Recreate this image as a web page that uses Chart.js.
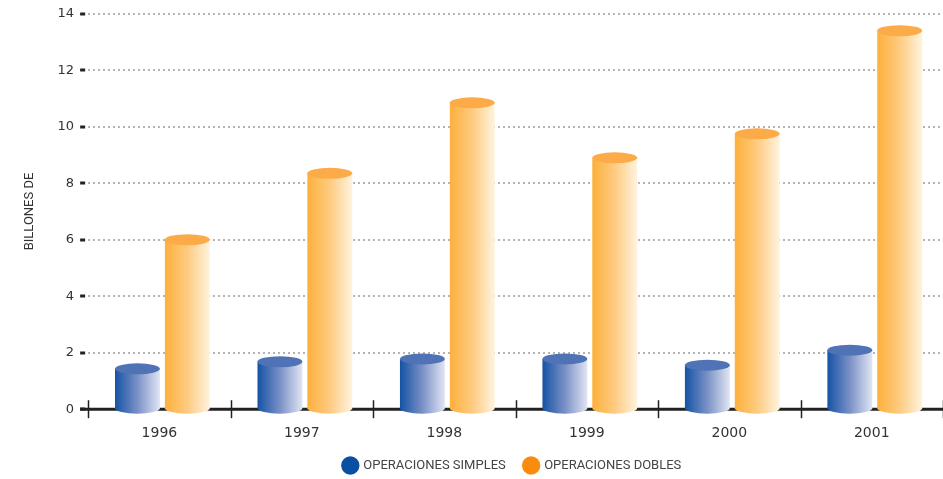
<!DOCTYPE html>
<html>
<head>
<meta charset="utf-8">
<script src="https://cdn.jsdelivr.net/npm/chart.js@4"></script>
<style>
  html, body { margin: 0; padding: 0; background: #fff; }
  #wrap { width: 943px; height: 479px; }
</style>
</head>
<body>
<div id="wrap"><canvas id="graphCanvas"></canvas></div>
<script>
var years = ['1996', '1997', '1998', '1999', '2000', '2001'];
var simples = [1.43, 1.68, 1.78, 1.78, 1.56, 2.09];
var dobles = [6.0, 8.35, 10.85, 8.9, 9.75, 13.4];
var yTicks = [0, 2, 4, 6, 8, 10, 12, 14];

var FONT = "'Liberation Sans Narrow', 'Roboto', sans-serif";

// colours for each cylinder: left side, right side, top cap
var looks = [
    { left: '#1553a5', mid: '#7a90c6', right: '#e0e5f3', cap: '#4f73b5' },
    { left: '#fdb03c', mid: '#fecb80', right: '#fff3df', cap: '#fcab48' }
];

var cylinderPlugin = {
    id: 'cylinders',
    afterLayout: function (chart) {
        // legend sits roughly centred on the plot area, not the canvas
        var shift = ((chart.chartArea.left + chart.chartArea.right) - chart.width) / 2 - 12;
        chart.legend.left += shift;
        chart.legend.right += shift;
        chart.legend.top += 3;
        chart.legend.bottom += 3;
    },
    beforeDatasetsDraw: function (chart) {
        var ctx = chart.ctx;
        var x = chart.scales.x;
        var y = chart.scales.y;
        var y0 = y.getPixelForValue(0);
        ctx.save();
        // base axis line
        ctx.strokeStyle = '#222';
        ctx.lineWidth = 3;
        ctx.beginPath();
        ctx.moveTo(x.left - 8, y0);
        ctx.lineTo(x.right, y0);
        ctx.stroke();
        // crosses at category boundaries
        ctx.lineWidth = 1.5;
        var step = (x.right - x.left) / years.length;
        for (var i = 0; i <= years.length; i++) {
            var bx = Math.round(x.left + i * step) + 0.5;
            ctx.beginPath();
            ctx.moveTo(bx, y0 - 9);
            ctx.lineTo(bx, y0 + 9);
            ctx.stroke();
        }
        ctx.restore();
    },
    afterDatasetsDraw: function (chart) {
        var ctx = chart.ctx;
        chart.data.datasets.forEach(function (ds, di) {
            var look = looks[di];
            chart.getDatasetMeta(di).data.forEach(function (bar) {
                var p = bar.getProps(['x', 'y', 'base', 'width'], true);
                var cx = p.x + 3;
                var l = cx - p.width / 2;
                var r = cx + p.width / 2;
                var rx = p.width / 2;
                var ry = 5.5;
                var g = ctx.createLinearGradient(l, 0, r, 0);
                g.addColorStop(0, look.left);
                g.addColorStop(0.5, look.mid);
                g.addColorStop(1, look.right);
                ctx.save();
                ctx.fillStyle = g;
                ctx.beginPath();
                ctx.moveTo(l, p.y);
                ctx.lineTo(l, p.base);
                ctx.ellipse(cx, p.base, rx, ry, 0, Math.PI, 0, true);
                ctx.lineTo(r, p.y);
                ctx.closePath();
                ctx.fill();
                ctx.fillStyle = look.cap;
                ctx.beginPath();
                ctx.ellipse(cx, p.y, rx, ry, 0, 0, Math.PI * 2);
                ctx.fill();
                ctx.restore();
            });
        });
    }
};

var chartdata = {
    labels: years,
    datasets: [
        {
            label: 'OPERACIONES SIMPLES',
            backgroundColor: 'rgba(0,0,0,0)',
            pointStyle: 'circle',
            data: simples
        },
        {
            label: 'OPERACIONES DOBLES',
            backgroundColor: 'rgba(0,0,0,0)',
            pointStyle: 'circle',
            data: dobles
        }
    ]
};

var legendColors = ['#0b4fa2', '#f98b0f'];

new Chart(document.getElementById('graphCanvas'), {
    type: 'bar',
    data: chartdata,
    plugins: [cylinderPlugin],
    options: {
        responsive: true,
        maintainAspectRatio: false,
        animation: false,
        categoryPercentage: 0.7,
        barPercentage: 0.9,
        layout: { padding: { top: 8, right: 0, left: 18, bottom: 0 } },
        plugins: {
            tooltip: { enabled: false },
            legend: {
                position: 'bottom',
                labels: {
                    usePointStyle: true,
                    boxWidth: 14,
                    boxHeight: 14,
                    padding: 6,
                    color: '#444',
                    font: { family: FONT, size: 13 },
                    generateLabels: function (chart) {
                        return chart.data.datasets.map(function (ds, i) {
                            return {
                                text: ds.label + (i === 0 ? '    ' : ''),
                                fillStyle: legendColors[i],
                                strokeStyle: legendColors[i],
                                lineWidth: 0,
                                pointStyle: 'circle',
                                fontColor: '#444',
                                datasetIndex: i
                            };
                        });
                    }
                }
            }
        },
        scales: {
            x: {
                grid: { display: false },
                border: { display: false },
                ticks: {
                    color: '#333',
                    padding: 8,
                    font: { family: "'DejaVu Sans', sans-serif", size: 14 }
                }
            },
            y: {
                min: 0,
                max: 14,
                afterBuildTicks: function (axis) {
                    axis.ticks = yTicks.map(function (v) { return { value: v }; });
                },
                border: { display: false, dash: [2, 3] },
                grid: {
                    lineWidth: 2,
                    color: function (c) { return c.tick && c.tick.value === 0 ? 'rgba(0,0,0,0)' : '#b4b4b4'; },
                    tickColor: '#222',
                    tickLength: 8,
                    tickWidth: 3,
                    tickBorderDash: [5, 3]
                },
                title: {
                    display: true,
                    text: 'BILLONES DE',
                    color: '#333',
                    font: { family: FONT, size: 13 },
                    padding: { bottom: 14 }
                },
                ticks: {
                    color: '#333',
                    padding: 6,
                    font: { family: "'DejaVu Sans', sans-serif", size: 13 }
                }
            }
        }
    }
});
</script>
</body>
</html>
